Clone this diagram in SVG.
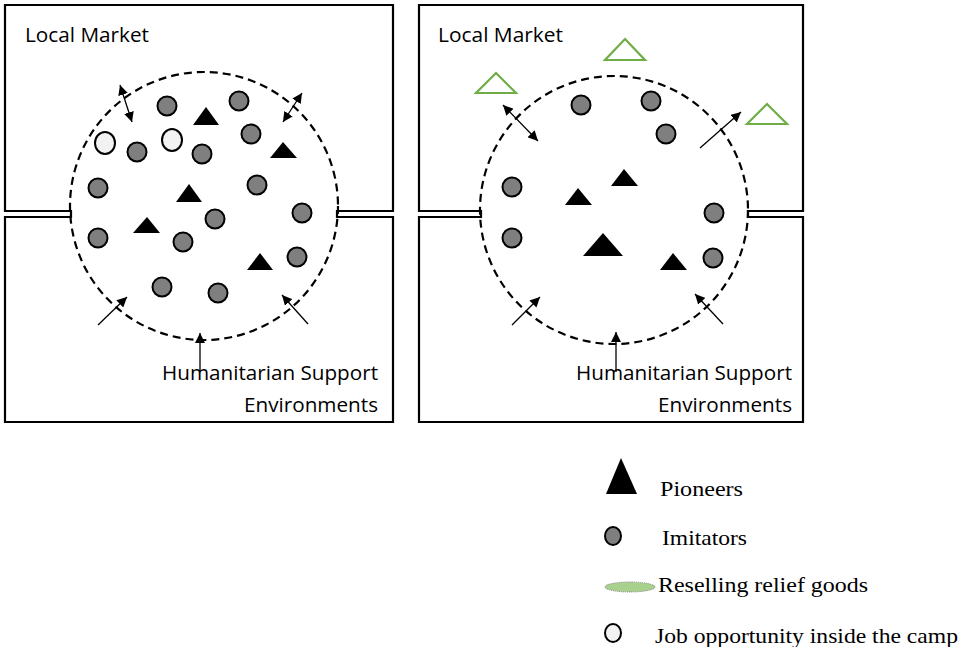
<svg xmlns="http://www.w3.org/2000/svg" width="965" height="647" viewBox="0 0 965 647">
<defs>
<marker id="ah" viewBox="0 0 10 10" refX="10" refY="5" markerUnits="userSpaceOnUse" markerWidth="10" markerHeight="10" orient="auto-start-reverse">
<path d="M0,0 L10,5 L0,10 Z" fill="#000"/>
</marker>
</defs>
<style>
.box{fill:#fff;stroke:#000;stroke-width:2.2;stroke-linejoin:miter}
.camp{fill:none;stroke:#000;stroke-width:2.2;stroke-dasharray:8 5}
.imi{fill:#7f7f7f;stroke:#000;stroke-width:2}
.job{fill:#f2f2f2;stroke:#000;stroke-width:2}
.pio{fill:#000}
.res{fill:#fff;stroke:#70ad47;stroke-width:2.2}
.arr{stroke:#000;stroke-width:1.3;fill:none}
.lbl{font-family:"Open Sans","Liberation Sans",sans-serif;font-size:19.5px;fill:#000}
.leg{font-family:"Liberation Serif","Times New Roman",serif;font-size:21px;fill:#000}
</style>
<rect width="965" height="647" fill="#fff"/>

<g id="panel-left">
<path class="box" d="M5,211 L5,5 L393,5 L393,211 L337,211 L337,217 L393,217 L393,422 L5,422 L5,217 L71,217 L71,211 Z"/>
<circle class="camp" cx="204" cy="206" r="134"/>
<text class="lbl" x="25" y="42" textLength="124" lengthAdjust="spacingAndGlyphs">Local Market</text>
<text class="lbl" x="162" y="380" textLength="216" lengthAdjust="spacingAndGlyphs">Humanitarian Support</text>
<text class="lbl" x="244" y="412" textLength="134" lengthAdjust="spacingAndGlyphs">Environments</text>
</g>

<g id="panel-right">
<path class="box" d="M419,211 L419,5 L803,5 L803,211 L748,211 L748,217 L803,217 L803,422 L419,422 L419,217 L481,217 L481,211 Z"/>
<circle class="camp" cx="614" cy="210" r="134"/>
<text class="lbl" x="438" y="42" textLength="125" lengthAdjust="spacingAndGlyphs">Local Market</text>
<text class="lbl" x="576" y="380" textLength="216" lengthAdjust="spacingAndGlyphs">Humanitarian Support</text>
<text class="lbl" x="658" y="412" textLength="134" lengthAdjust="spacingAndGlyphs">Environments</text>
</g>

<g id="imitators-left">
<circle class="imi" cx="167" cy="106" r="9.5"/>
<circle class="imi" cx="239" cy="101" r="9.5"/>
<circle class="imi" cx="251" cy="134" r="9.5"/>
<circle class="imi" cx="137" cy="152" r="9.5"/>
<circle class="imi" cx="202" cy="154" r="9.5"/>
<circle class="imi" cx="98" cy="188" r="9.5"/>
<circle class="imi" cx="257" cy="185" r="9.5"/>
<circle class="imi" cx="302" cy="213" r="9.5"/>
<circle class="imi" cx="215" cy="219" r="9.5"/>
<circle class="imi" cx="98" cy="238" r="9.5"/>
<circle class="imi" cx="183" cy="242" r="9.5"/>
<circle class="imi" cx="297" cy="257" r="9.5"/>
<circle class="imi" cx="162" cy="287" r="9.5"/>
<circle class="imi" cx="218" cy="293" r="9.5"/>
</g>

<g id="jobs-left">
<ellipse class="job" cx="105" cy="143" rx="10" ry="11"/>
<ellipse class="job" cx="172" cy="140" rx="10" ry="11"/>
</g>

<g id="pioneers-left">
<polygon class="pio" points="206,107 219,125 193,125"/>
<polygon class="pio" points="283,142 297,158 270,158"/>
<polygon class="pio" points="189,184 202,202 176,202"/>
<polygon class="pio" points="147,217 160,233 133,233"/>
<polygon class="pio" points="260,253 273,270 247,270"/>
</g>

<g id="imitators-right">
<circle class="imi" cx="581" cy="105" r="9.5"/>
<circle class="imi" cx="651" cy="101" r="9.5"/>
<circle class="imi" cx="666" cy="134" r="9.5"/>
<circle class="imi" cx="512" cy="187" r="9.5"/>
<circle class="imi" cx="714" cy="213" r="9.5"/>
<circle class="imi" cx="512" cy="238" r="9.5"/>
<circle class="imi" cx="713" cy="258" r="9.5"/>
</g>

<g id="pioneers-right">
<polygon class="pio" points="624,169 638,186 611,186"/>
<polygon class="pio" points="578,188 592,205 565,205"/>
<polygon class="pio" points="603,233 623,256 583,256"/>
<polygon class="pio" points="673,253 687,270 660,270"/>
</g>

<g id="reselling-right">
<polygon class="res" points="625,39 645,60 605,60"/>
<polygon class="res" points="496,73 516,93 476,93"/>
<polygon class="res" points="767,104 787,124 747,124"/>
</g>

<g id="connectors">
<line class="arr" x1="120" y1="85" x2="132" y2="122" marker-start="url(#ah)" marker-end="url(#ah)"/>
<line class="arr" x1="302" y1="93" x2="283" y2="122" marker-start="url(#ah)" marker-end="url(#ah)"/>
<line class="arr" x1="98" y1="325" x2="127" y2="297" marker-end="url(#ah)"/>
<line class="arr" x1="308" y1="324" x2="282" y2="295" marker-end="url(#ah)"/>
<line class="arr" x1="200" y1="372" x2="200" y2="333" marker-end="url(#ah)"/>
<line class="arr" x1="503" y1="105" x2="538" y2="141" marker-start="url(#ah)" marker-end="url(#ah)"/>
<line class="arr" x1="700" y1="148" x2="741" y2="112" marker-end="url(#ah)"/>
<line class="arr" x1="512" y1="325" x2="540" y2="297" marker-end="url(#ah)"/>
<line class="arr" x1="723" y1="324" x2="695" y2="294" marker-end="url(#ah)"/>
<line class="arr" x1="616" y1="372" x2="616" y2="332" marker-end="url(#ah)"/>
</g>

<g id="legend">
<g id="legend-pioneers">
<polygon class="pio" points="621,458 637,494 606,494"/>
<text class="leg" x="660" y="496" textLength="83" lengthAdjust="spacingAndGlyphs">Pioneers</text>
</g>
<g id="legend-imitators">
<ellipse class="imi" cx="613" cy="536" rx="8" ry="9"/>
<text class="leg" x="662" y="545" textLength="85" lengthAdjust="spacingAndGlyphs">Imitators</text>
</g>
<g id="legend-reselling">
<ellipse cx="630" cy="587" rx="25" ry="5" fill="#a9d18e" stroke="#7f7f7f" stroke-width="1" stroke-dasharray="1 1"/>
<text class="leg" x="658" y="592" textLength="210" lengthAdjust="spacingAndGlyphs">Reselling relief goods</text>
</g>
<g id="legend-job">
<ellipse class="job" cx="613" cy="633" rx="8" ry="9"/>
<text class="leg" x="655" y="643" textLength="303" lengthAdjust="spacingAndGlyphs">Job opportunity inside the camp</text>
</g>
</g>
</svg>
